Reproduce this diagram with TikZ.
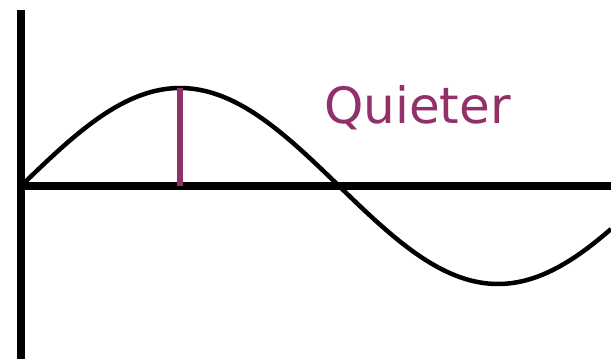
\documentclass[tikz,border=0pt]{standalone}
\usepackage{fontspec}
\setmainfont{DejaVu Sans}
\usepackage{tikz}
\usetikzlibrary{positioning}
\definecolor{plum}{RGB}{145,48,105}

\begin{document}
\begin{tikzpicture}[x=1pt,y=-1pt,
        axis/.style={line width=7.5pt, black},
        wave/.style={line width=4.5pt, black, line join=round},
        level/.style={line width=6pt, plum},
        label/.style={font=\fontsize{50}{50}\selectfont, text=plum, inner sep=0pt}
    ]
        \useasboundingbox (0,0) rectangle (611,359);
        \coordinate (top) at (21,10);
        \coordinate (bottom) at (21,359);
        \coordinate (origin) at (21,186);
        \coordinate (right) at (611,186);
        \coordinate (peak) at (180,88);
        \coordinate (foot) at (180,186);

        \draw[axis] (top) -- (bottom);
        \draw[axis] (origin) -- (right);
        \draw[wave] plot[domain=21:611, samples=120, smooth] (\x, {186-98*sin((\x-21)/636*360)});
        \draw[level] (peak) -- (foot);
        \node[label, anchor=base west] (quiet) at (324,123) {Quieter};
    \end{tikzpicture}
\end{document}
